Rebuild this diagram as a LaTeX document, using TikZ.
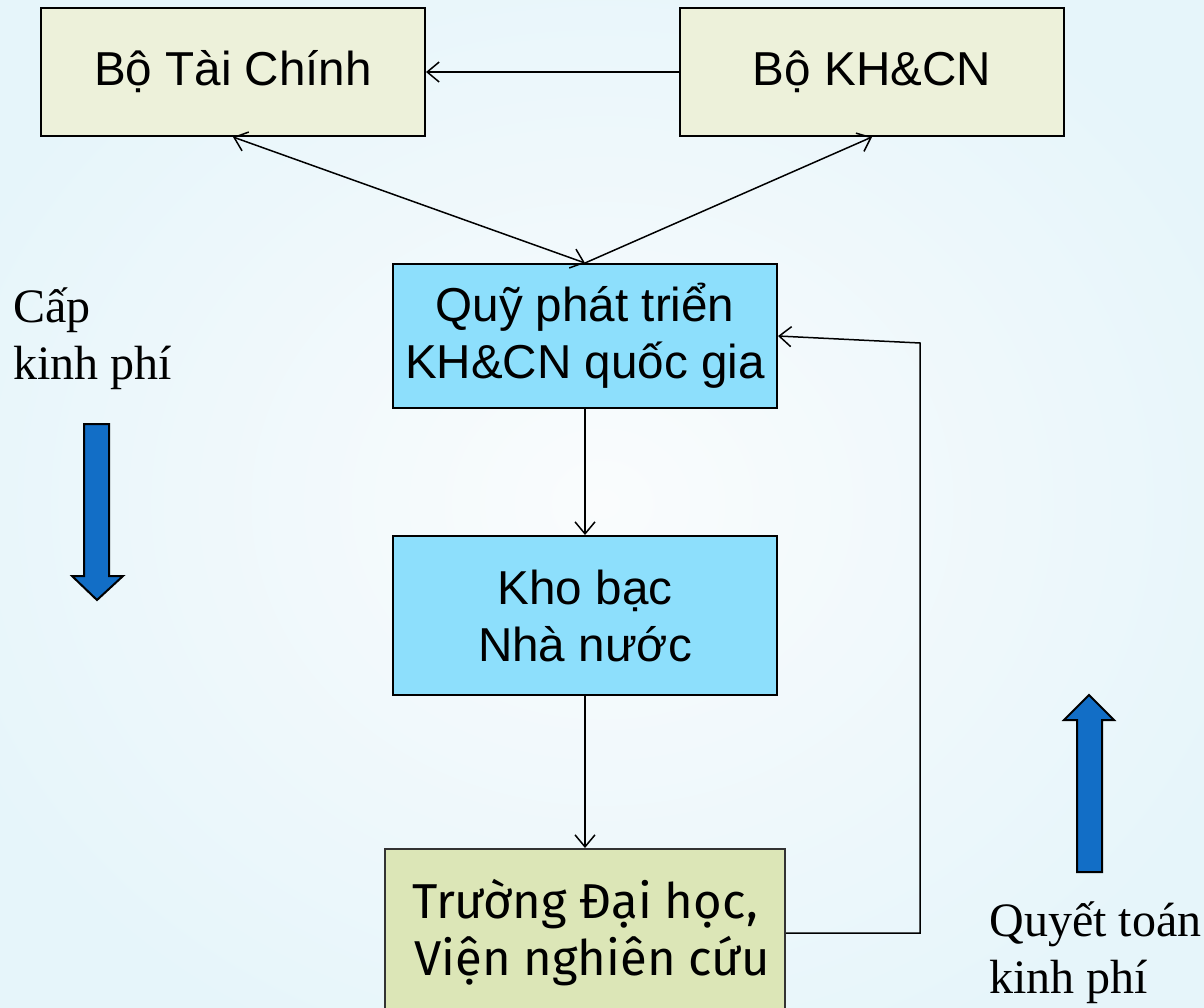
\documentclass[tikz,border=0pt]{standalone}
\usepackage{fontspec}
\setmainfont{Liberation Serif}
\setsansfont{Liberation Sans}
\newfontfamily\vnsans{Fira Sans}
\usetikzlibrary{arrows.meta}

\definecolor{bginner}{HTML}{FAFCFD}
\definecolor{bgouter}{HTML}{E6F5FA}
\definecolor{boxbeige}{HTML}{EDF1DA}
\definecolor{boxcyan}{HTML}{8DDFFC}
\definecolor{boxgreen}{HTML}{DCE6B7}
\definecolor{flowblue}{HTML}{126EC6}

\begin{document}
\begin{tikzpicture}[
		x=0.5pt,
		y=-0.5pt,
		unit/.style={draw=black, line width=1pt, inner sep=0pt, align=center, minimum width=192pt,
			font=\sffamily\fontsize{23.8}{28.5}\selectfont},
		link/.style={line width=0.75pt, -{Straight Barb[length=6pt,width=10pt]}},
		flow/.style={draw=black, line width=1pt, fill=flowblue},
		sidetext/.style={inner sep=0pt, align=left, anchor=west, font=\fontsize{24}{28.5}\selectfont},
	]
		\useasboundingbox (0,0) rectangle (1204,1007);
		\clip (0,0) rectangle (1204,1007);
		\shade[inner color=bginner, outer color=bgouter] (-100,-100) rectangle (1304,1107);

		% ministries
		\node[unit, fill=boxbeige, minimum height=64pt] (mof) at (233,72) {Bộ Tài Chính};
		\node[unit, fill=boxbeige, minimum height=64pt] (most) at (872,72) {Bộ KH\&CN};

		% fund, treasury, institutes
		\node[unit, fill=boxcyan, minimum height=72pt] (fund) at (585,336) {Quỹ phát triển\\KH\&CN quốc gia};
		\node[unit, fill=boxcyan, minimum height=79.5pt] (treasury) at (585,615.5) {Kho bạc\hspace{7pt}\\Nhà nước};
		\node[unit, fill=boxgreen, draw=black!80, minimum width=200pt, minimum height=84pt,
			font=\vnsans\fontsize{24.5}{28.5}\selectfont] (inst) at (585,933) {Trường Đại học,\\\hspace{7pt}Viện nghiên cứu};

		\draw[link] (most) -- (mof);
		\draw[link, {Straight Barb[length=6pt,width=10pt]}-{Straight Barb[length=6pt,width=10pt]}] (fund.north) -- (mof.south);
		\draw[link] (fund.north) -- (most.south);
		\draw[link] (fund) -- (treasury);
		\draw[link] (treasury) -- (inst);

		\coordinate (back) at (920,343);
		\draw[link] (inst.east) -| (back) -- (fund.east);

		% block arrows
		\draw[flow] (84,424) -- (109,424) -- (109,576) -- (123,576) -- (97,600) -- (72,576) -- (84,576) -- cycle;
		\draw[flow] (1077,872) -- (1102,872) -- (1102,720) -- (1114,720) -- (1089,695) -- (1064,720) -- (1077,720) -- cycle;

		\node[sidetext] (give) at (13,339) {Cấp\\kinh phí};
		\node[sidetext] (settle) at (989,953) {Quyết toán\\kinh phí};
	\end{tikzpicture}
\end{document}
